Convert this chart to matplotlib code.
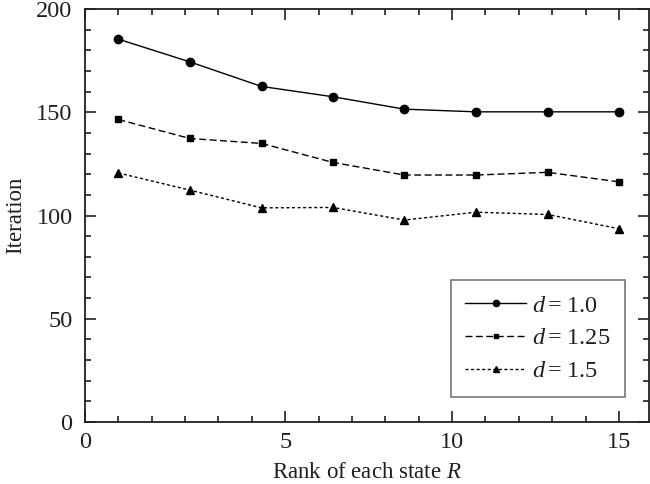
import matplotlib
matplotlib.use("Agg")
import matplotlib.pyplot as plt
from matplotlib.ticker import MultipleLocator, FixedLocator

# Data
rank = [0.0, 2.14, 4.29, 6.43, 8.57, 10.71, 12.86, 15.0]
iter_d10 = [185.4, 174.4, 162.5, 157.5, 151.5, 150.2, 150.2, 150.2]
iter_d125 = [146.5, 137.3, 134.9, 125.7, 119.6, 119.6, 120.9, 116.3]
iter_d15 = [120.6, 112.3, 103.7, 103.9, 97.8, 101.6, 100.5, 93.6]
labels = [r"$\it{d}\,$= 1.0", r"$\it{d}\,$= 1.25", r"$\it{d}\,$= 1.5"]

# Tick positions/labels as they appear on the reference (its "0" label sits at the left spine)
xtick_pos = [-1, 5, 10, 15]
xtick_lab = ["0", "5", "10", "15"]
ytick_pos = [0, 50, 100, 150, 200]

plt.rcParams['font.family'] = ['Liberation Serif', 'DejaVu Serif']
plt.rcParams['mathtext.fontset'] = 'custom'
plt.rcParams['mathtext.it'] = 'Liberation Serif:italic'
plt.rcParams['mathtext.rm'] = 'Liberation Serif'

txt = '#231f20'
fig = plt.figure(figsize=(6.5, 4.84), dpi=100)
ax = fig.add_axes([85/650, (484-422)/484, (649-85)/650, (422-9)/484])

ax.plot(rank, iter_d10, '-', color='black', lw=1.0, marker='o', ms=6, label=labels[0])
ax.plot(rank, iter_d125, '--', color='black', lw=1.0, marker='s', ms=4.8, dashes=(5, 2.5), label=labels[1])
ax.plot(rank, iter_d15, ':', color='black', lw=1.0, marker='^', ms=5.5, dashes=(2.2, 1.8), label=labels[2])

ax.set_xlim(-1, 15.9)
ax.set_ylim(0, 200)
ax.xaxis.set_major_locator(FixedLocator(xtick_pos))
ax.set_xticklabels(xtick_lab)
ax.xaxis.set_minor_locator(FixedLocator([v for v in range(0, 16) if v not in (5, 10, 15)]))
ax.yaxis.set_major_locator(FixedLocator(ytick_pos))
ax.yaxis.set_minor_locator(MultipleLocator(10))

ax.tick_params(which='both', direction='in', top=True, right=True, colors=txt, labelsize=17.5, width=1.2)
ax.tick_params(which='major', length=8, pad=7)
ax.tick_params(which='minor', length=4.5)
ax.tick_params(axis='y', which='major', pad=9)
for s in ax.spines.values():
    s.set_linewidth(1.3)
    s.set_color(txt)

ax.set_xlabel(r"Rank of each state $\it{R}$", fontsize=16.5, color=txt, labelpad=7)
ax.set_ylabel("Iteration", fontsize=16.5, color=txt, labelpad=7)

leg = ax.legend(loc='lower right', fontsize=17.5,
                frameon=True, fancybox=False, edgecolor='#555555', handlelength=2.5,
                markerscale=0.75, borderpad=0.6, labelspacing=0.45, handletextpad=0.25, borderaxespad=0)
leg.get_frame().set_linewidth(1.2)
for t in leg.get_texts():
    t.set_color(txt)
leg.set_bbox_to_anchor(((625-85)/564, (422-397)/413), transform=ax.transAxes)

fig.savefig("out.png", dpi=100)
